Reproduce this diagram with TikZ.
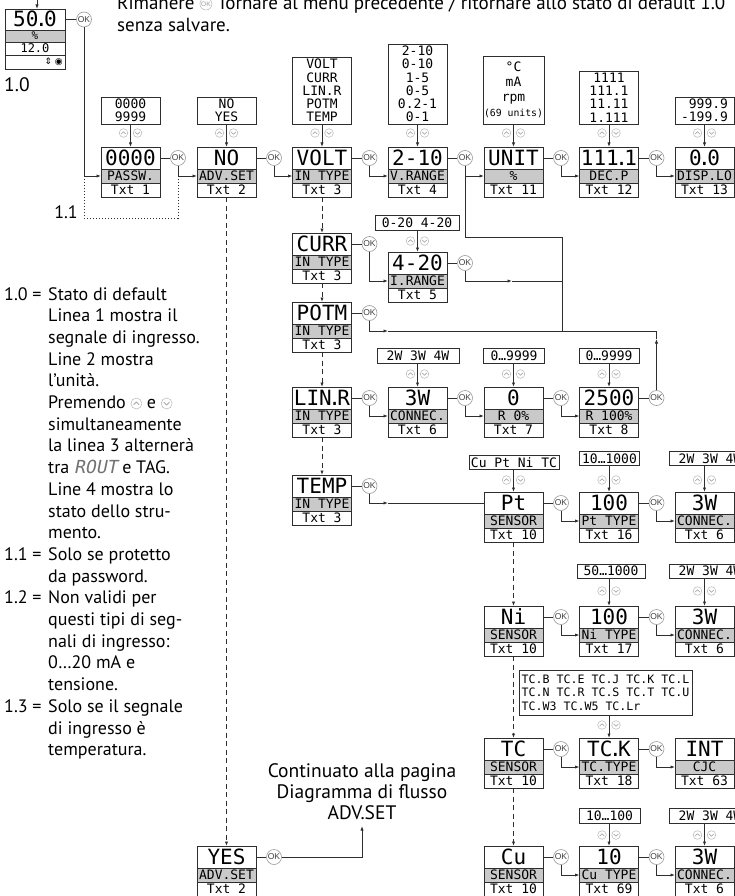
\documentclass[tikz,border=0pt]{standalone}
\usepackage{fontspec}
\setmainfont{PT Sans}
\newfontfamily\lcd{DejaVu Sans Mono}
\newfontfamily\lcdit{DejaVu Sans Mono}[FakeSlant=0.2]
\newfontfamily\okf{Liberation Sans}
\newfontfamily\symf{DejaVu Sans}
\usetikzlibrary{arrows.meta}
\definecolor{ln}{HTML}{2E2E2E}
\definecolor{gr}{HTML}{C9C9C9}
\definecolor{icn}{HTML}{9A9A9A}
\tikzset{
  lnstyle/.style={draw=ln, line width=0.8pt},
  arr/.style={lnstyle, -{Latex[length=4.5pt,width=3.2pt]}},
  dsh/.style={lnstyle, dash pattern=on 5pt off 3.5pt},
  dar/.style={dsh, -{Latex[length=4.5pt,width=3.2pt]}},
  dotl/.style={lnstyle, line width=0.9pt, dash pattern=on 1.3pt off 1.7pt},
  boxrow/.style={draw=ln, line width=0.8pt, minimum width=59pt, inner sep=0pt, outer sep=0pt},
  mainrow/.style={boxrow, fill=white, minimum height=22pt, text height=15pt, text depth=0pt, font=\lcd\fontsize{21}{21}\selectfont, anchor=north west},
  grayrow/.style={boxrow, fill=gr, minimum height=14pt, text height=9.5pt, text depth=0pt, font=\lcd\fontsize{13}{13}\selectfont, anchor=north},
  txtrow/.style={grayrow, fill=white},
  okc/.style={circle, draw=icn, fill=white, line width=0.6pt, minimum size=15pt, inner sep=0pt, font=\okf\fontsize{8.5}{8.5}\selectfont, text=black!75},
  opt/.style={draw=ln, line width=0.8pt, fill=white, inner sep=1pt, font=\lcd\fontsize{13}{13.3}\selectfont, align=center},
  notetext/.style={anchor=base west, inner sep=0pt, font=\fontsize{18}{21.7}\selectfont},
  bigtext/.style={inner sep=0pt, font=\fontsize{19.5}{22}\selectfont},
}
\newcommand\dt{\kern-3.5pt.\kern-3.5pt}
\newcommand\mkdisp[6]{%
  \node[mainrow] (#1) at (#2,#3) {#4};
  \node[grayrow] (#1-g) at (#1.south) {#5};
  \node[txtrow] (#1-t) at (#1-g.south) {#6};}
\newcommand\mkok[1]{%
  \node[okc] (#1-ok) at ([xshift=18pt]#1.east) {OK};
  \draw[lnstyle] (#1.east) -- (#1-ok.west);}
\newcommand\updn[2]{%
  \draw[icn!70, line width=0.5pt] (#1-7,#2) circle (4.3) (#1+7,#2) circle (4.3);
  \draw[icn, line width=0.6pt] (#1-9.3,#2+1.1) -- (#1-7,#2-1.2) -- (#1-4.7,#2+1.1);
  \draw[icn, line width=0.6pt] (#1+4.7,#2-1.1) -- (#1+7,#2+1.2) -- (#1+9.3,#2-1.1);}
\newcommand\iup{\tikz[x=1pt,y=1pt,baseline=-5pt]{\draw[icn!70,line width=0.5pt] (0,0) circle (5.5); \draw[icn,line width=0.7pt] (-2.8,-1.3)--(0,1.4)--(2.8,-1.3);}}
\newcommand\idn{\tikz[x=1pt,y=1pt,baseline=-5pt]{\draw[icn!70,line width=0.5pt] (0,0) circle (5.5); \draw[icn,line width=0.7pt] (-2.8,1.3)--(0,-1.4)--(2.8,1.3);}}
\newcommand\iok{\tikz[x=1pt,y=1pt,baseline=-6pt]{\node[circle,draw=icn!70,line width=0.5pt,inner sep=0pt,minimum size=12pt,font=\okf\fontsize{6.5}{6.5}\selectfont,text=icn,anchor=center] (okicon) at (0,0) {OK};}}
\begin{document}
\begin{tikzpicture}[x=1pt,y=-1pt]
\useasboundingbox (0,0) rectangle (735,896);
\clip (0,0) rectangle (735,896);
\fill[white] (0,0) rectangle (735,896);

% ---------- top text ----------
\node[bigtext, anchor=base west, font=\fontsize{19}{22}\selectfont] (t1) at (117,10) {Rimanere \iok{} Tornare al menu precedente / ritornare allo stato di default 1.0};
\node[bigtext, anchor=base west, font=\fontsize{19}{22}\selectfont] (t2) at (117,31.5) {senza salvare.};

% ---------- default state box ----------
\node[mainrow, minimum width=60pt, minimum height=21pt] (def) at (5,9) {50\dt 0};
\node[grayrow, minimum width=60pt, minimum height=12pt, text height=8pt, font=\lcd\fontsize{11}{11}\selectfont] (def-g) at (def.south) {\%};
\node[txtrow, minimum width=60pt, minimum height=13pt, text height=9pt, font=\lcd\fontsize{12}{12}\selectfont] (def-l3) at (def-g.south) {12.0};
\node[txtrow, minimum width=60pt, minimum height=14pt] (def-l4) at (def-l3.south) {};
\node[anchor=east, inner sep=0pt, font=\symf\fontsize{9}{9}\selectfont] (def-sym) at ([xshift=-2pt]def-l4.east) {⇕ ◉};
\node[bigtext, anchor=base west] (lab10) at (4,92) {1.0};
\coordinate (in0) at (37,0);
\draw[arr] (in0) -- (in0 |- def.north);
\node[okc] (def-ok) at (84,19.5) {OK};
\draw[lnstyle] (def.east) -- (def-ok.west);

% ---------- displays ----------
\mkdisp{passw}{101}{147}{0000}{PASSW.}{Txt 1}
\mkdisp{adv}{197}{147}{NO}{ADV.SET}{Txt 2}
\mkdisp{volt}{292.5}{147}{VOLT}{IN TYPE}{Txt 3}
\mkdisp{vrange}{388}{147}{2-10}{V.RANGE}{Txt 4}
\mkdisp{unit}{484}{147}{UNIT}{\%}{Txt 11}
\mkdisp{decp}{579.5}{147}{111\dt 1}{DEC.P}{Txt 12}
\mkdisp{displo}{675}{147}{0\dt 0}{DISP.LO}{Txt 13}
\mkdisp{curr}{292.5}{233}{CURR}{IN TYPE}{Txt 3}
\mkdisp{irange}{388}{252}{4-20}{I.RANGE}{Txt 5}
\mkdisp{potm}{292.5}{302}{POTM}{IN TYPE}{Txt 3}
\mkdisp{linr}{292.5}{387}{LIN\dt R}{IN TYPE}{Txt 3}
\mkdisp{conna}{388}{387}{3W}{CONNEC.}{Txt 6}
\mkdisp{rlo}{484}{387}{0}{R 0\%}{Txt 7}
\mkdisp{rhi}{579.5}{387}{2500}{R 100\%}{Txt 8}
\mkdisp{temp}{292.5}{475}{TEMP}{IN TYPE}{Txt 3}
\mkdisp{pt}{484}{492}{Pt}{SENSOR}{Txt 10}
\mkdisp{pttype}{579.5}{492}{100}{Pt TYPE}{Txt 16}
\mkdisp{connb}{675}{492}{3W}{CONNEC.}{Txt 6}
\mkdisp{ni}{484}{606}{Ni}{SENSOR}{Txt 10}
\mkdisp{nitype}{579.5}{606}{100}{Ni TYPE}{Txt 17}
\mkdisp{connc}{675}{606}{3W}{CONNEC.}{Txt 6}
\mkdisp{tc}{484}{738}{TC}{SENSOR}{Txt 10}
\mkdisp{tck}{579.5}{738}{TC\dt K}{TC.TYPE}{Txt 18}
\mkdisp{cjc}{675}{738}{INT}{CJC}{Txt 63}
\mkdisp{cu}{484}{846}{Cu}{SENSOR}{Txt 10}
\mkdisp{cutype}{579.5}{846}{10}{Cu TYPE}{Txt 69}
\mkdisp{connd}{675}{846}{3W}{CONNEC.}{Txt 6}
\mkdisp{yes}{197}{846}{YES}{ADV.SET}{Txt 2}

\foreach \n in {passw,adv,volt,vrange,unit,decp,curr,irange,potm,linr,conna,rlo,rhi,temp,pt,pttype,ni,nitype,tc,tck,cu,cutype,yes} {\mkok{\n}}

% ---------- option boxes ----------
\node[opt, minimum width=59pt, minimum height=27pt] (o1) at (130.5,110.5) {0000\\9999};
\node[opt, minimum width=59pt, minimum height=27pt] (o2) at (226.5,110.5) {NO\\YES};
\node[opt, minimum width=59pt, minimum height=67pt] (o3) at (322,90.5) {VOLT\\CURR\\LIN.R\\POTM\\TEMP};
\node[opt, minimum width=59pt, minimum height=80pt] (o4) at (417.5,84) {2-10\\0-10\\1-5\\0-5\\0.2-1\\0-1};
\node[opt, minimum width=59pt, minimum height=68pt, font=\lcd\fontsize{13}{15}\selectfont] (o5) at (513.5,90) {°C\\mA\\rpm\\{\fontsize{9.8}{15}\selectfont(69 units)}};
\node[opt, minimum width=59pt, minimum height=53pt] (o6) at (609,97.5) {1111\\111.1\\11.11\\1.111};
\node[opt, minimum width=59pt, minimum height=27pt, align=right] (o7) at (704.5,110.5) {999.9\\-199.9};
\node[opt, minimum width=84pt, minimum height=15pt] (o8) at (417,222.5) {0-20 4-20};
\node[opt, minimum width=82pt, minimum height=15pt] (o9) at (418,355.5) {2W 3W 4W};
\node[opt, minimum width=61pt, minimum height=15pt] (o10) at (514,355.5) {0…9999};
\node[opt, minimum width=60pt, minimum height=15pt] (o11) at (609,355.5) {0…9999};
\node[opt, minimum width=90pt, minimum height=14pt] (o12) at (514,462.5) {Cu Pt Ni TC};
\node[opt, minimum width=60pt, minimum height=14pt] (o13) at (609.5,458.5) {10…1000};
\node[opt, minimum width=82pt, minimum height=14pt] (o14) at (710,458.5) {2W 3W 4W};
\node[opt, minimum width=68pt, minimum height=14pt] (o15) at (611,571) {50…1000};
\node[opt, minimum width=82pt, minimum height=14pt] (o16) at (710,571) {2W 3W 4W};
\node[opt, minimum width=173pt, minimum height=45pt, align=left, font=\lcd\fontsize{11.6}{13.6}\selectfont] (o17) at (605.5,692.5) {TC.B TC.E TC.J TC.K TC.L\\TC.N TC.R TC.S TC.T TC.U\\TC.W3 TC.W5 TC.Lr};
\node[opt, minimum width=61pt, minimum height=15pt] (o18) at (609.5,815.5) {10…100};
\node[opt, minimum width=82pt, minimum height=15pt] (o19) at (710,815.5) {2W 3W 4W};

\foreach \o/\d in {o1/passw,o2/adv,o3/volt,o4/vrange,o5/unit,o6/decp,o7/displo,o8/irange,o9/conna,o10/rlo,o11/rhi,o12/pt,o13/pttype,o14/connb,o15/nitype,o16/connc,o17/tck,o18/cutype,o19/connd}
  {\draw[arr] (\o.south -| \d.north) -- (\d.north);}

\foreach \x in {130.5,226.5,322,417.5,513.5,609,704.5} {\updn{\x}{133}}
\updn{417.5}{241}
\foreach \x in {417.5,513.5,609} {\updn{\x}{374}}
\foreach \x in {513.5,609,704.5} {\updn{\x}{480}}
\foreach \x in {609,704.5} {\updn{\x}{591}}
\updn{609}{725}
\foreach \x in {609,704.5} {\updn{\x}{835}}

% ---------- OK flow connectors ----------
\draw[arr] (def-ok.south) |- (passw-g.west);
\foreach \a/\b in {passw/adv,adv/volt,vrange/unit,unit/decp,decp/displo,curr/irange,linr/conna,conna/rlo,rlo/rhi,pt/pttype,pttype/connb,ni/nitype,nitype/connc,tc/tck,tck/cjc,cu/cutype,cutype/connd}
  {\draw[arr] (\a-ok.south) |- (\b-g.west);}
\draw[arr] (volt-ok.south) |- (vrange-g.west);

\coordinate (m1) at (562,237);
\coordinate (m2) at (562,331);
\draw[lnstyle] (vrange-ok |- unit-g.west) |- (m1) -- (m2);
\coordinate (ia) at (512,281);
\draw[arr] (irange-ok.south) |- (ia);
\draw[lnstyle] (ia) -- (ia -| m1);
\coordinate (pa) at (388,331);
\coordinate (pb) at (656.5,331);
\draw[arr] (potm-ok.south) |- (pa);
\draw[lnstyle] (pa) -- (pb);
\coordinate (ra) at (656.5,339);
\draw[arr] (rhi-ok.north) -- (ra);
\draw[lnstyle] (ra) -- (pb);
\coordinate (ta) at (388,503);
\draw[arr] (temp-ok.south) |- (ta);
\draw[lnstyle] (ta) -- (pt.west);
\coordinate (ya) at (362,857);
\coordinate (yb) at (362,826);
\draw[arr] (yes-ok.east) -- (ya) -- (yb);

% dashed alternatives
\draw[dar] (volt-t.south) -- (curr.north);
\draw[dar] (curr-t.south) -- (potm.north);
\draw[dar] (potm-t.south) -- (linr.north);
\draw[dar] (linr-t.south) -- (temp.north);
\draw[dar] (pt-t.south) -- (ni.north);
\draw[dar] (ni-t.south) -- (tc.north);
\draw[dar] (tc-t.south) -- (cu.north);
\draw[dar] (adv-t.south) -- (yes.north);

% dotted 1.1
\coordinate (d1) at (84,218);
\coordinate (d2) at (178,218);
\draw[dotl] (def-ok |- passw-g.west) -- (d1) -- (d2) -- (passw-ok |- adv-g.west);
\node[bigtext, anchor=base east, font=\fontsize{18}{18}\selectfont] (lab11) at (78,218) {1.1};

% ---------- continuation text ----------
\node[bigtext, anchor=base] (c1) at (362,777) {Continuato alla pagina};
\node[bigtext, anchor=base] (c2) at (362,798) {Diagramma di flusso};
\node[bigtext, anchor=base] (c3) at (362,819) {ADV.SET};

% ---------- notes ----------
\node[notetext] (k1) at (4,300) {1.0 =};
\node[notetext] (k2) at (4,560.4) {1.1 =};
\node[notetext] (k3) at (4,603.8) {1.2 =};
\node[notetext] (k4) at (4,712.3) {1.3 =};
\foreach \t [count=\i from 0] in {Stato di default,Linea 1 mostra il,segnale di ingresso.,Line 2 mostra,l’unità.,Premendo \iup{} e \idn{},simultaneamente,la linea 3 alternerà,tra {\lcdit\color{black!55}ROUT} e TAG.,Line 4 mostra lo,stato dello stru-,mento.,Solo se protetto,da password.,Non validi per,questi tipi di seg-,nali di ingresso:,0…20 mA e,tensione.,Solo se il segnale,di ingresso è,temperatura.}
  {\node[notetext] (n\i) at (48,300+21.7*\i) {\t};}
\end{tikzpicture}
\end{document}
